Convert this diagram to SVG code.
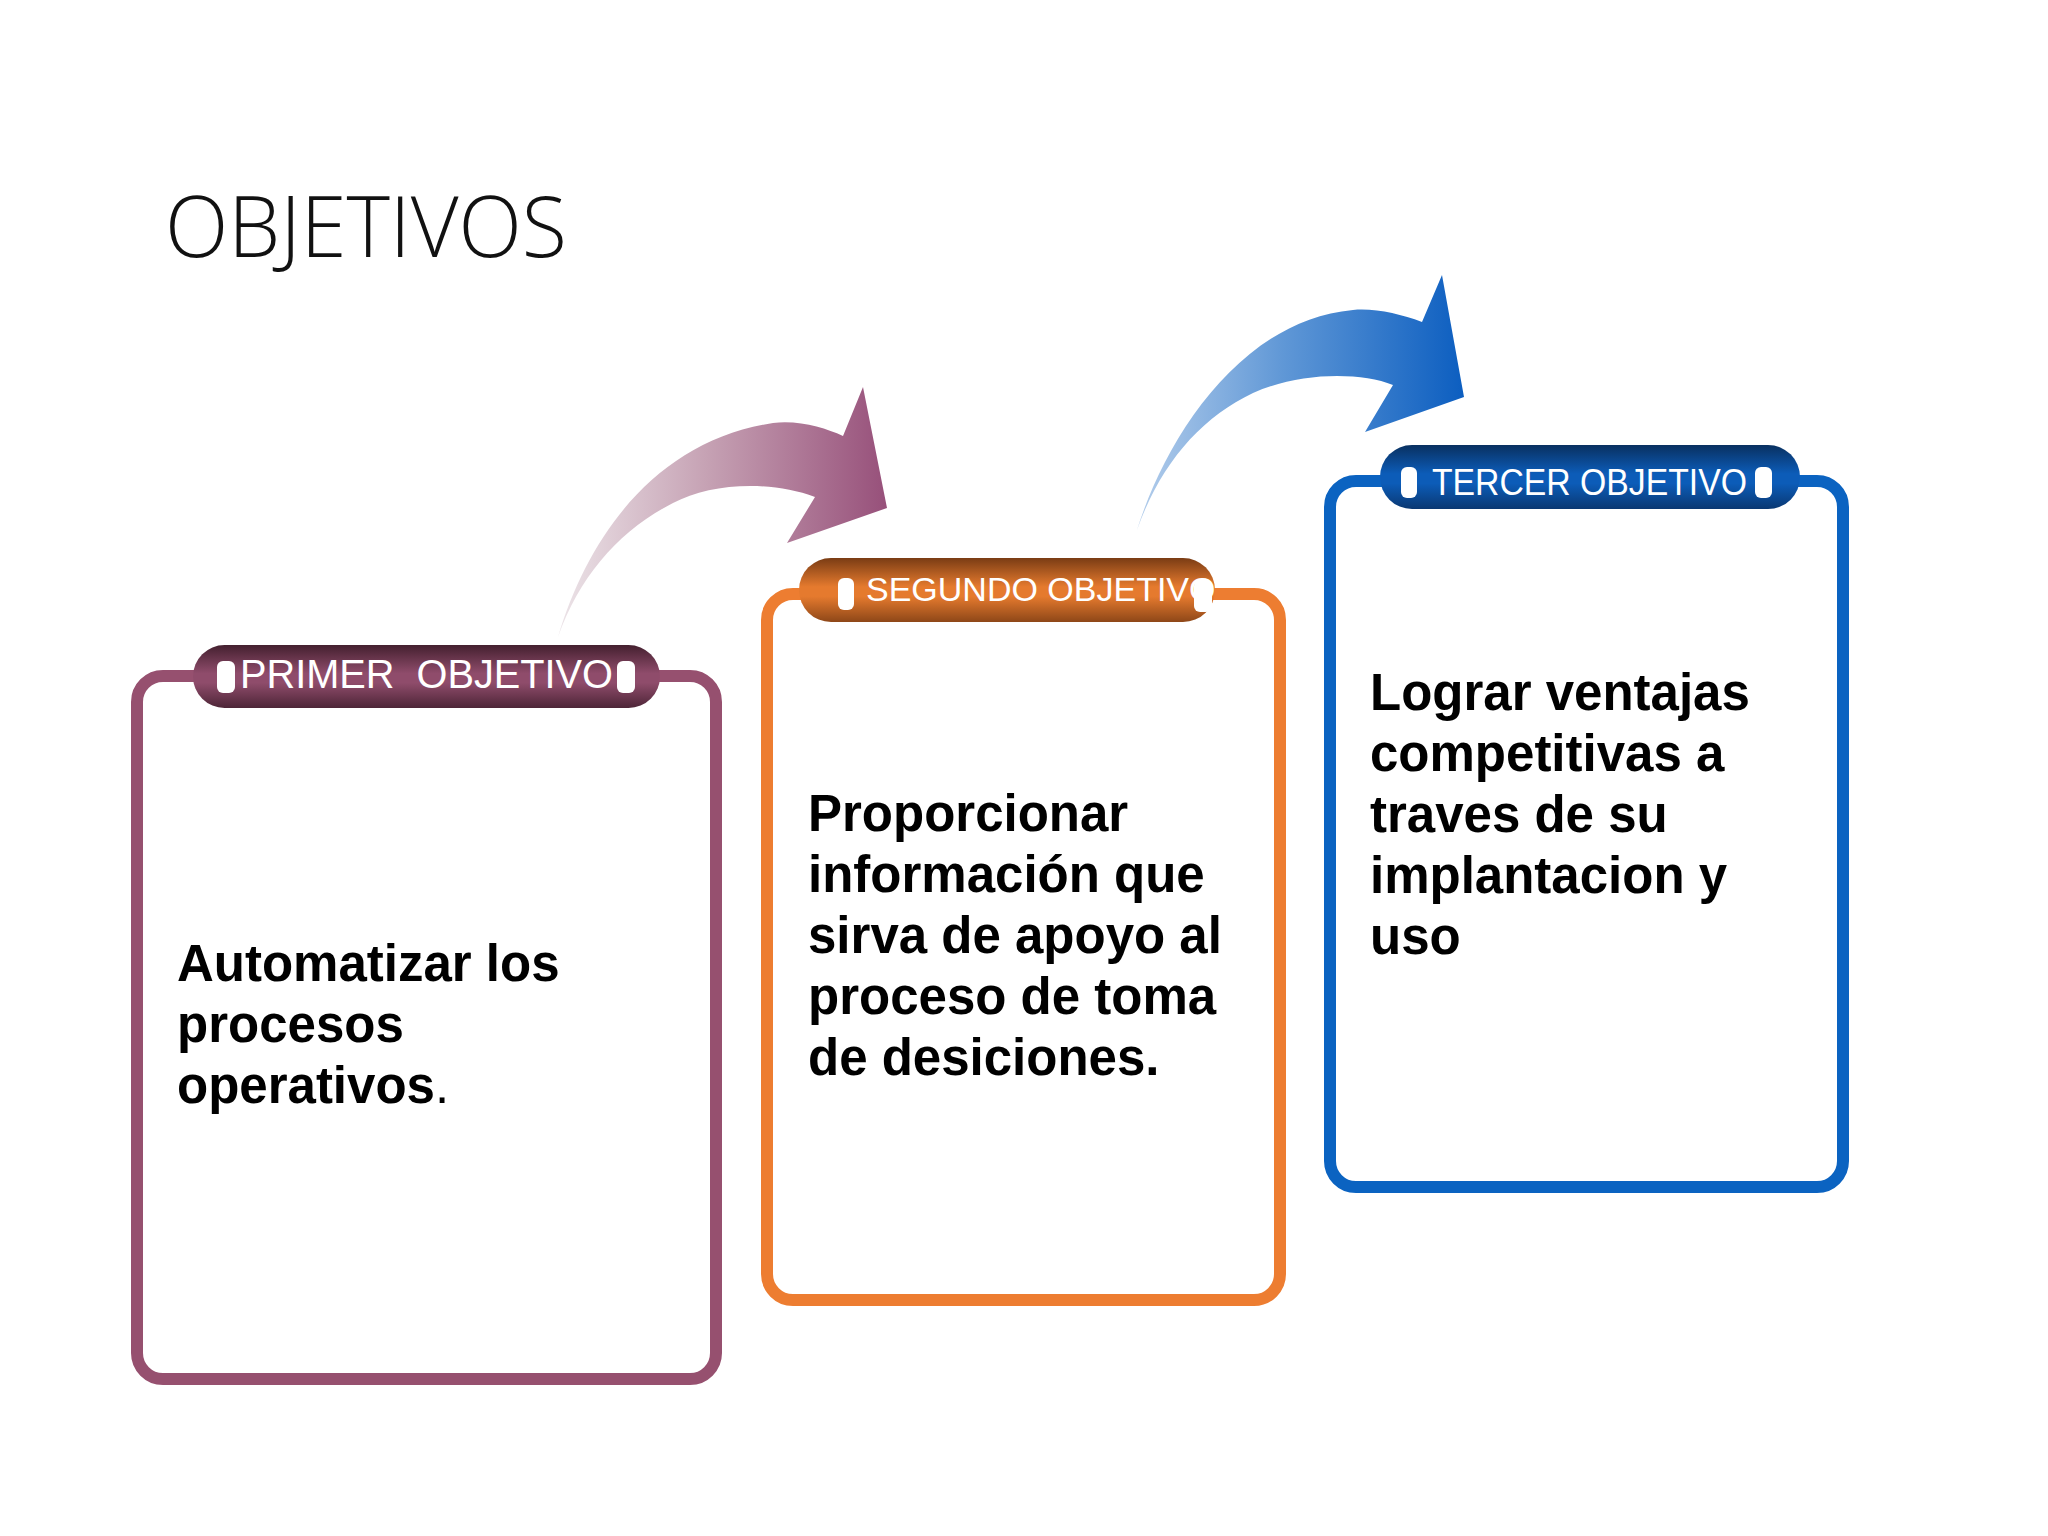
<svg xmlns="http://www.w3.org/2000/svg" width="2048" height="1536" viewBox="0 0 2048 1536">
  <defs>
    <linearGradient id="gArrow1" x1="0" y1="0" x2="1" y2="0">
      <stop offset="0" stop-color="#ece4e8"/>
      <stop offset="0.45" stop-color="#c6a2b4"/>
      <stop offset="1" stop-color="#97507a"/>
    </linearGradient>
    <linearGradient id="gArrow2" x1="0" y1="0" x2="1" y2="0">
      <stop offset="0" stop-color="#b3cdeb"/>
      <stop offset="0.45" stop-color="#5f97d6"/>
      <stop offset="1" stop-color="#0c5ec0"/>
    </linearGradient>
    <linearGradient id="gPill1" x1="0" y1="0" x2="0" y2="1">
      <stop offset="0" stop-color="#44202f"/>
      <stop offset="0.45" stop-color="#8f4c6b"/>
      <stop offset="0.6" stop-color="#8f4c6b"/>
      <stop offset="1" stop-color="#4d2537"/>
    </linearGradient>
    <linearGradient id="gPill2" x1="0" y1="0" x2="0" y2="1">
      <stop offset="0" stop-color="#7a3c14"/>
      <stop offset="0.45" stop-color="#e57a2e"/>
      <stop offset="0.6" stop-color="#e57a2e"/>
      <stop offset="1" stop-color="#8e4718"/>
    </linearGradient>
    <linearGradient id="gPill3" x1="0" y1="0" x2="0" y2="1">
      <stop offset="0" stop-color="#093060"/>
      <stop offset="0.45" stop-color="#0c5cb8"/>
      <stop offset="0.6" stop-color="#0c5cb8"/>
      <stop offset="1" stop-color="#0a3872"/>
    </linearGradient>
  </defs>
  <style>
    .title { font-family: "Open Sans", "Liberation Sans", sans-serif; font-weight: 300; font-size: 85px; fill: #111111; }
    .box { fill: #ffffff; stroke-width: 12; }
    .body { font-family: "Liberation Sans", Arial, sans-serif; font-weight: bold; font-size: 51px; fill: #000000; }
    .pilltxt { font-family: "Liberation Sans", Arial, sans-serif; fill: #ffffff; }
    .cap { fill: #ffffff; }
  </style>
  <rect x="0" y="0" width="2048" height="1536" fill="#ffffff"/>

  <g id="title">
    <text class="title" x="165" y="257" textLength="402" lengthAdjust="spacingAndGlyphs">OBJETIVOS</text>
  </g>

  <g id="connectors">
    <path id="arrow1" fill="url(#gArrow1)" d="M558,637 C590,530 660,440 773,423 C800,420 825,428 843,436 L863,387 L887,508 L787,543 L815,497 C770,480 710,483 673,503 C620,530 580,575 558,637 Z"/>
    <path id="arrow2" fill="url(#gArrow2)" d="M1137,530 C1165,440 1240,320 1353,310 C1375,308 1400,314 1422,322 L1442,275 L1464,397 L1365,432 L1393,385 C1360,372 1300,372 1253,393 C1200,418 1160,465 1137,530 Z"/>
  </g>

  <g id="node1">
    <rect class="box" x="137" y="676" width="579" height="703" rx="26" stroke="#96506f"/>
    <rect x="193" y="645" width="467" height="63" rx="31.5" fill="url(#gPill1)"/>
    <rect class="cap" x="217" y="661" width="18" height="32" rx="6"/>
    <rect class="cap" x="617" y="661" width="18" height="32" rx="6"/>
    <text class="pilltxt" x="240" y="688" font-size="40" textLength="373" lengthAdjust="spacingAndGlyphs" xml:space="preserve">PRIMER  OBJETIVO</text>
    <text class="body" x="177" y="981">Automatizar los</text>
    <text class="body" x="177" y="1042">procesos</text>
    <text class="body" x="177" y="1103">operativos<tspan font-weight="normal">.</tspan></text>
  </g>

  <g id="node2">
    <rect class="box" x="767" y="594" width="513" height="706" rx="26" stroke="#ed7d31"/>
    <rect x="799" y="558" width="416" height="64" rx="32" fill="url(#gPill2)"/>
    <text class="pilltxt" x="866" y="601" font-size="34">SEGUNDO OBJETIVO</text>
    <rect class="cap" x="838" y="578" width="16" height="32" rx="6"/>
    <rect class="cap" x="1194" y="580" width="18" height="32" rx="6"/>
    <text class="body" x="808" y="831">Proporcionar</text>
    <text class="body" x="808" y="892">información que</text>
    <text class="body" x="808" y="953">sirva de apoyo al</text>
    <text class="body" x="808" y="1014">proceso de toma</text>
    <text class="body" x="808" y="1075">de desiciones.</text>
  </g>

  <g id="node3">
    <rect class="box" x="1330" y="481" width="513" height="706" rx="26" stroke="#0b63c1"/>
    <rect x="1380" y="445" width="420" height="64" rx="32" fill="url(#gPill3)"/>
    <rect class="cap" x="1401" y="467" width="16" height="31" rx="6"/>
    <rect class="cap" x="1755" y="467" width="17" height="31" rx="6"/>
    <text class="pilltxt" x="1432" y="495" font-size="37" textLength="315" lengthAdjust="spacingAndGlyphs">TERCER OBJETIVO</text>
    <text class="body" x="1370" y="710">Lograr ventajas</text>
    <text class="body" x="1370" y="771">competitivas a</text>
    <text class="body" x="1370" y="832">traves de su</text>
    <text class="body" x="1370" y="893">implantacion y</text>
    <text class="body" x="1370" y="954">uso</text>
  </g>
</svg>
